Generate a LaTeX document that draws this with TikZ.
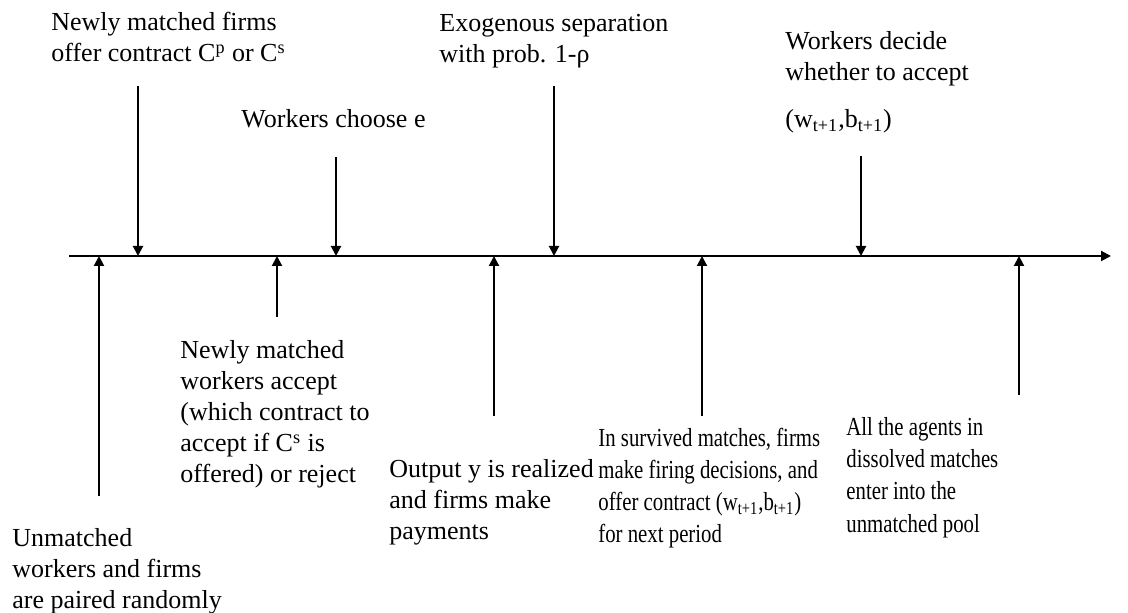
\documentclass[tikz,border=0pt]{standalone}
\usepackage{fontspec}
\setmainfont{Liberation Serif}
\newfontfamily\narrowserif[FakeStretch=0.8]{Liberation Serif}
\usetikzlibrary{arrows.meta}

\begin{document}
\begin{tikzpicture}[
  x=0.5pt, y=-0.5pt,
  font=\fontsize{13}{15.5}\selectfont,
  >={Triangle[length=5pt,width=5pt]},
  axis/.style={->, line width=1pt},
  evt/.style={->, line width=1pt},
  lbl/.style={align=left, anchor=base west, inner sep=0pt},
  narrow/.style={lbl, font=\narrowserif\fontsize{13}{16}\selectfont}
]
\useasboundingbox (0,0) rectangle (1128,613);

% Time axis
\coordinate (t0) at (69,256);
\coordinate (t1) at (1111,256);
\draw[axis] (t0) -- (t1);

% Events above the axis (labels placed by their last line)
\node[lbl] (offer) at (51,62)
  {Newly matched firms\\offer contract C\textsuperscript{p} or C\textsuperscript{s}};
\node[lbl] (effort) at (241,128) {Workers choose e};
\node[lbl] (sep) at (439,63) {Exogenous separation\\with prob. 1-ρ};
\node[lbl] (decide) at (785,128)
  {Workers decide\\whether to accept\\[8pt]
   (w\textsubscript{t+1},b\textsubscript{t+1})};

\coordinate (offer-top) at (138,86);   \coordinate (offer-tip) at (138,256);
\coordinate (effort-top) at (336,157); \coordinate (effort-tip) at (336,256);
\coordinate (sep-top) at (554,86);     \coordinate (sep-tip) at (554,256);
\coordinate (decide-top) at (861,156); \coordinate (decide-tip) at (861,256);

\draw[evt] (offer-top) -- (offer-tip);
\draw[evt] (effort-top) -- (effort-tip);
\draw[evt] (sep-top) -- (sep-tip);
\draw[evt] (decide-top) -- (decide-tip);

% Events below the axis
\node[lbl] (pair) at (12,608)
  {Unmatched\\workers and firms\\are paired randomly};
\node[lbl] (accept) at (180,483)
  {Newly matched\\workers accept\\(which contract to\\accept if C\textsuperscript{s} is\\offered) or reject};
\node[lbl] (output) at (389,539)
  {Output y is realized\\and firms make\\payments};
\node[narrow] (fire) at (598,543)
  {In survived matches, firms\\make firing decisions, and\\offer contract (w\textsubscript{t+1},b\textsubscript{t+1})\\for next period};
\node[narrow] (pool) at (846,532)
  {All the agents in\\dissolved matches\\enter into the\\unmatched pool};

\coordinate (pair-bot) at (99,496);    \coordinate (pair-tip) at (99,256);
\coordinate (accept-bot) at (277,317); \coordinate (accept-tip) at (277,256);
\coordinate (output-bot) at (494,416); \coordinate (output-tip) at (494,256);
\coordinate (fire-bot) at (702,416);   \coordinate (fire-tip) at (702,256);
\coordinate (pool-bot) at (1019,395);  \coordinate (pool-tip) at (1019,256);

\draw[evt] (pair-bot) -- (pair-tip);
\draw[evt] (accept-bot) -- (accept-tip);
\draw[evt] (output-bot) -- (output-tip);
\draw[evt] (fire-bot) -- (fire-tip);
\draw[evt] (pool-bot) -- (pool-tip);

\end{tikzpicture}
\end{document}
